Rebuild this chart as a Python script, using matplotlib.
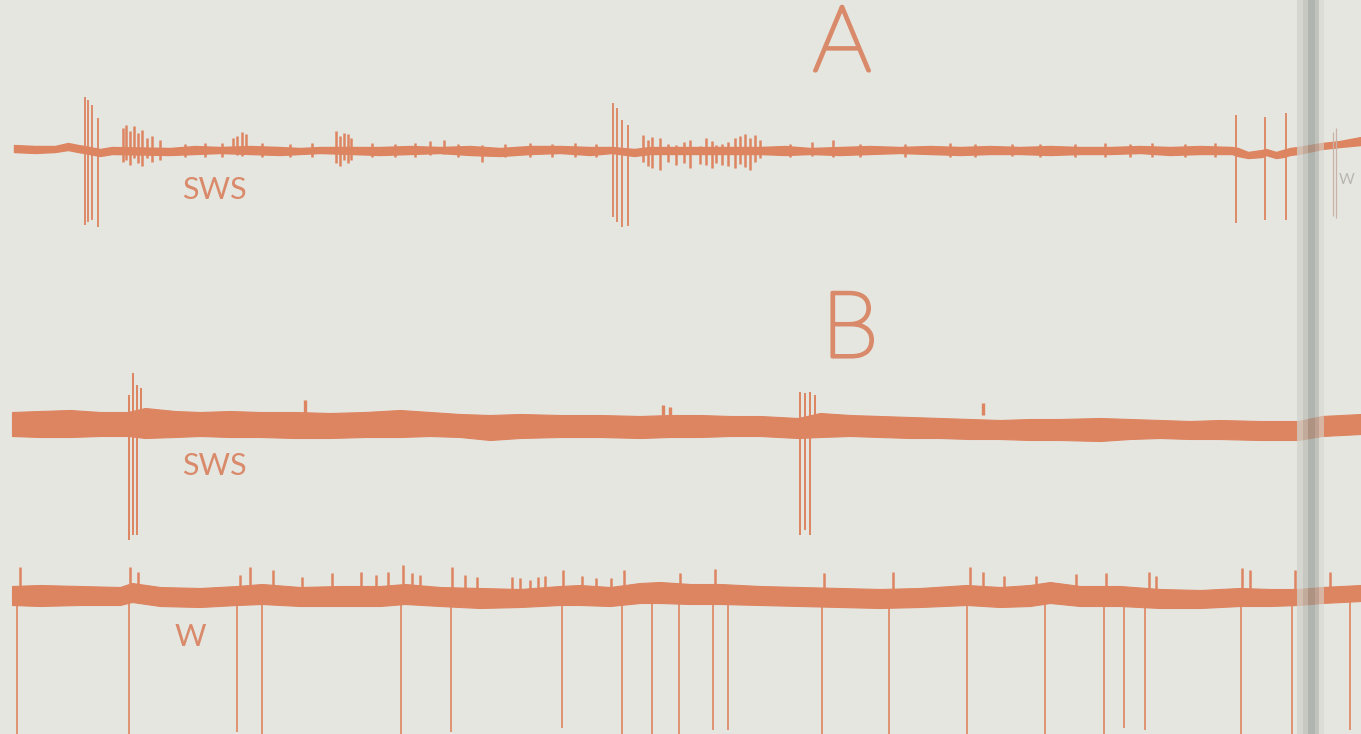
import matplotlib
matplotlib.use("Agg")
import matplotlib.pyplot as plt
import matplotlib.patheffects as pe

# ---------------- data (x: chart time units, y: trace deflection units) ----
# Trace A (SWS -> W), envelope of the trace
A_x = [14, 35, 55, 68, 78, 84, 100, 112, 170, 195, 220, 250, 280, 300, 320, 352, 380, 410, 440,
       470, 500, 530, 560, 590, 612, 634, 650, 700, 760, 785, 810, 840, 870, 900, 930, 960, 990,
       1020, 1050, 1080, 1110, 1140, 1170, 1200, 1232, 1238, 1248, 1262, 1266, 1276, 1283, 1290,
       1298, 1322, 1340, 1361]
A_top = [145, 146, 146, 143, 145, 146, 149, 147, 148, 146, 147, 146, 147, 148, 147, 147, 147, 146,
         147, 146, 148, 146, 146, 147, 147, 149, 147, 147, 147, 146, 148, 147, 146, 147, 146, 147,
         146, 147, 146, 147, 147, 146, 147, 146, 147, 148, 152, 150, 149, 152, 150, 148, 147, 143,
         141, 137]
A_bot = [152, 153, 152, 150, 152, 153, 156, 154, 155, 154, 153, 154, 155, 154, 153, 154, 155, 154,
         153, 155, 156, 154, 153, 155, 153, 156, 154, 154, 154, 155, 154, 155, 154, 153, 154, 155,
         154, 154, 155, 154, 154, 153, 155, 154, 154, 156, 158, 157, 155, 158, 157, 155, 154, 149,
         147, 145]
# large deflections in trace A
A_spike_x = [85, 88, 92, 98, 613, 617, 622, 628, 1236, 1265, 1286]
A_spike_top = [97, 100, 105, 118, 103, 108, 120, 125, 115, 117, 113]
A_spike_bot = [225, 222, 220, 227, 217, 222, 227, 226, 223, 220, 220]
# bursts of faster activity in trace A
A_burst_x = [123, 126, 130, 134, 138, 142, 147, 152, 160,
             185, 205, 222, 233, 237, 242, 246, 262, 290, 312,
             336, 340, 344, 348, 351, 372, 395, 415,
             430, 444, 458, 482, 505, 530, 552, 575, 596,
             643, 648, 652, 660, 668, 676, 684, 690, 700, 706, 712, 716, 722, 728, 735, 740, 745,
             750, 755, 760,
             790, 812, 833, 860, 905, 950, 975, 1012, 1040, 1075, 1105, 1130, 1152, 1185, 1215]
A_burst_top = [128, 125, 131, 126, 133, 130, 138, 136, 140,
               144, 143, 143, 138, 136, 132, 134, 143, 144, 143,
               131, 136, 133, 134, 138, 143, 144, 143,
               141, 140, 144, 145, 144, 143, 144, 143, 144,
               135, 140, 137, 138, 144, 145, 142, 140, 146, 138, 141, 145, 144, 142, 138, 136, 134,
               138, 135, 140,
               144, 142, 140, 144, 144, 143, 144, 144, 144, 144, 143, 144, 143, 144, 143]
A_burst_bot = [162, 160, 165, 158, 163, 166, 158, 162, 160,
               157, 157, 157, 153, 155, 156, 154, 157, 157, 157,
               163, 166, 160, 163, 160, 157, 157, 157,
               155, 154, 157, 162, 157, 157, 157, 157, 157,
               162, 166, 168, 170, 162, 165, 163, 168, 164, 165, 168, 163, 165, 166, 168, 164, 167,
               170, 162, 158,
               157, 156, 157, 157, 157, 157, 157, 156, 157, 157, 157, 157, 157, 157, 157]
# faint part beyond the binding
A_faint_x = [1333, 1336]
A_faint_top = [132, 128]
A_faint_bot = [216, 218]

# Trace B, upper (SWS)
B1_x = [12, 40, 70, 100, 128, 145, 175, 200, 230, 260, 295, 330, 365, 400, 430, 460, 490, 520,
        560, 600, 640, 670, 700, 730, 760, 798, 820, 850, 880, 910, 940, 970, 1000, 1030, 1060,
        1100, 1130, 1160, 1190, 1220, 1260, 1298, 1322, 1361]
B1_top = [412, 411, 410, 412, 412, 408, 411, 412, 411, 412, 412, 413, 412, 410, 412, 414, 415, 414,
          415, 415, 416, 415, 415, 416, 416, 418, 413, 415, 416, 417, 418, 419, 420, 419, 419,
          418, 419, 420, 421, 420, 421, 421, 416, 414]
B1_bot = [436, 437, 437, 436, 436, 438, 437, 436, 437, 437, 438, 438, 437, 437, 436, 437, 440, 438,
          437, 437, 438, 437, 437, 436, 436, 438, 437, 436, 437, 438, 438, 439, 439, 440, 440,
          441, 439, 438, 439, 439, 440, 440, 436, 434]
B1_spike_x = [129, 133, 137, 141, 800, 805, 810, 815]
B1_spike_top = [395, 373, 385, 388, 392, 393, 392, 395]
B1_spike_bot = [540, 535, 535, 430, 535, 530, 535, 430]
B1_small_x = [305, 663, 670, 983]
B1_small_top = [400, 405, 407, 403]

# Trace B, lower (W)
B2_x = [12, 40, 80, 120, 132, 160, 200, 237, 262, 300, 340, 380, 405, 440, 480, 520, 560, 580,
        610, 640, 660, 690, 720, 760, 800, 840, 880, 920, 967, 1000, 1030, 1050, 1080, 1120, 1160,
        1200, 1240, 1270, 1298, 1322, 1361]
B2_top = [586, 585, 586, 587, 583, 587, 588, 586, 584, 587, 586, 586, 584, 587, 588, 589, 586, 585,
          587, 583, 582, 584, 584, 586, 587, 588, 589, 588, 585, 587, 585, 582, 586, 586, 589,
          590, 588, 589, 589, 587, 585]
B2_bot = [605, 606, 605, 605, 602, 606, 607, 605, 604, 606, 606, 606, 604, 606, 608, 607, 605, 605,
          606, 603, 603, 604, 604, 605, 606, 607, 608, 607, 605, 607, 606, 603, 606, 606, 608,
          608, 606, 606, 605, 603, 601]
B2_down_x = [17, 129, 237, 262, 401, 451, 562, 622, 652, 679, 713, 728, 822, 889, 967, 1045, 1104,
             1124, 1145, 1241, 1292, 1350]
B2_down_bot = [735, 735, 732, 735, 735, 732, 728, 735, 735, 735, 730, 730, 735, 735, 735, 735, 735,
               728, 730, 735, 735, 730]
B2_up_x = [20, 130, 138, 240, 250, 273, 302, 332, 361, 376, 388, 403, 412, 420, 452,
           465, 477, 512, 520, 530, 538, 545, 563, 582, 596, 611, 624, 680, 715, 824, 893,
           970, 983, 1004, 1036, 1076, 1106, 1149, 1156, 1242, 1250, 1295, 1330]
B2_up_top = [567, 567, 572, 575, 567, 570, 577, 573, 572, 575, 572, 565, 573, 575, 567,
             575, 577, 577, 578, 580, 577, 576, 570, 576, 578, 578, 570, 573, 569, 573, 572,
             567, 572, 576, 576, 574, 573, 572, 576, 568, 570, 570, 572]

# labels
panel_labels = ["A", "B"]
state_labels = ["SWS", "SWS", "W"]

# ---------------- styling ----------------
BG = "#e6e6e1"
INK = "#dd8460"
TXT = "#d98a6a"

fig = plt.figure(figsize=(13.61, 7.34), dpi=100, facecolor=BG)
ax = fig.add_axes([0, 0, 1, 1])
ax.set_facecolor(BG)
ax.set_xlim(0, 1361)
ax.set_ylim(734, 0)
ax.axis("off")

# trace A
ax.fill_between(A_x, A_top, A_bot, color=INK, lw=1.0, edgecolor=INK)
ax.vlines(A_spike_x, A_spike_top, A_spike_bot, color=INK, lw=1.3)
ax.vlines(A_burst_x, A_burst_top, A_burst_bot, color=INK, lw=1.8)
ax.vlines(A_faint_x, A_faint_top, A_faint_bot, color="#c9b3a8", lw=0.9)

# trace B upper
ax.fill_between(B1_x, B1_top, B1_bot, color=INK, lw=0.8, edgecolor=INK)
ax.vlines(B1_spike_x, B1_spike_top, B1_spike_bot, color=INK, lw=1.4)
ax.vlines(B1_small_x, B1_small_top, [415] * len(B1_small_x), color=INK, lw=2.4)

# trace B lower
ax.fill_between(B2_x, B2_top, B2_bot, color=INK, lw=0.8, edgecolor=INK)
ax.vlines(B2_down_x, [598] * len(B2_down_x), B2_down_bot, color=INK, lw=1.2)
ax.vlines(B2_up_x, B2_up_top, [592] * len(B2_up_x), color=INK, lw=1.8)

# binding gutter of the scanned page
for x0, x1, c, a in [(1297, 1303, "#d0d1cb", 0.75), (1303, 1308, "#b9bcb6", 0.7),
                     (1308, 1315, "#959b95", 0.65), (1315, 1319, "#aeb1ab", 0.65),
                     (1319, 1324, "#d6d7d1", 0.6)]:
    ax.axvspan(x0, x1, color=c, alpha=a, lw=0)

# text
fam = ["Lato", "DejaVu Sans"]
thick = [pe.withStroke(linewidth=2.6, foreground=TXT)]
ax.text(842, 46, panel_labels[0], ha="center", va="center", fontsize=66, color=TXT,
        family=fam, fontweight="light", path_effects=thick)
ax.text(850, 332, panel_labels[1], ha="center", va="center", fontsize=66, color=TXT,
        family=fam, fontweight="light", path_effects=thick)
ax.text(214, 190, state_labels[0], ha="center", va="center", fontsize=22, color=TXT, family=fam)
ax.text(214, 466, state_labels[1], ha="center", va="center", fontsize=22, color=TXT, family=fam)
ax.text(190, 637, state_labels[2], ha="center", va="center", fontsize=22, color=TXT, family=fam)
ax.text(1347, 180, "W", ha="center", va="center", fontsize=11, color="#b9b6b0", family=fam)

fig.savefig("out.png", dpi=100, facecolor=BG)
